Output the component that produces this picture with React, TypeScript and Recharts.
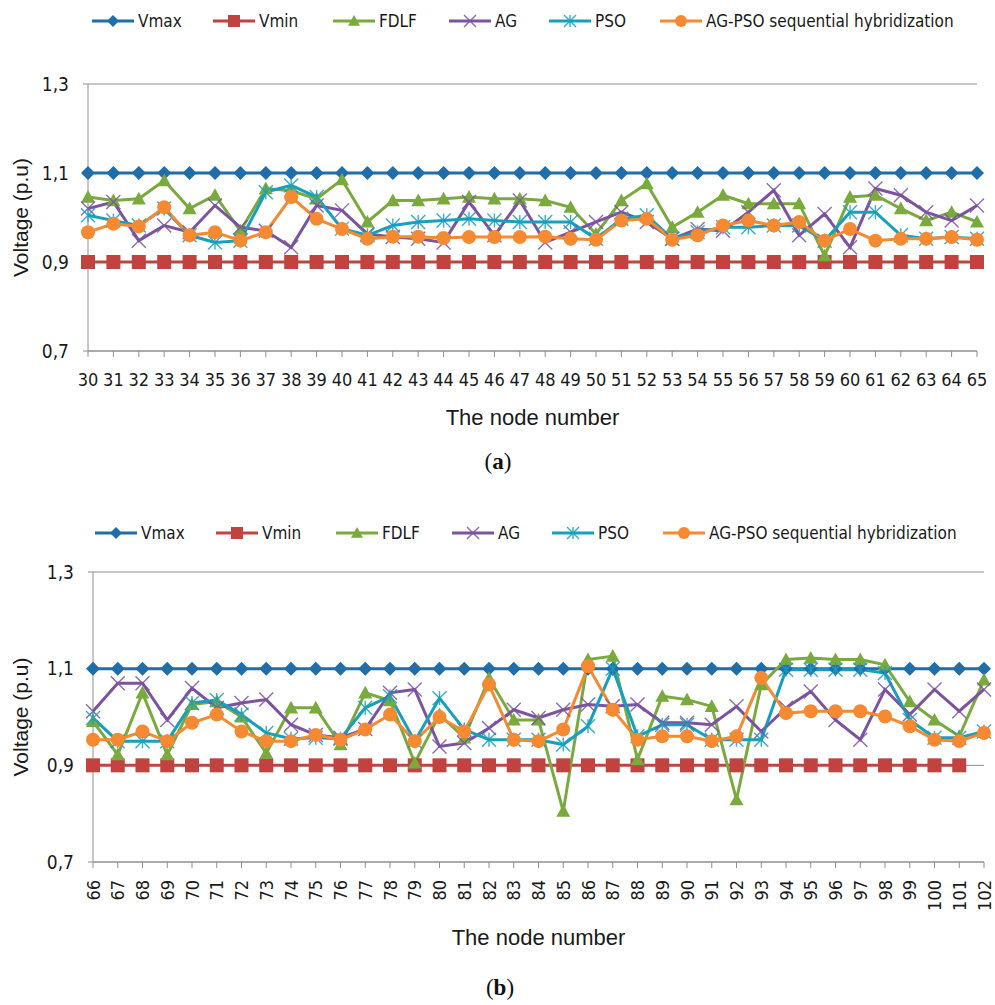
import React from "react";
import { CartesianGrid, Line, LineChart, XAxis, YAxis } from "recharts";

// ---- panel (a): nodes 30..65 ----
const nodesA = [30, 31, 32, 33, 34, 35, 36, 37, 38, 39, 40, 41, 42, 43, 44, 45, 46, 47, 48, 49, 50, 51, 52, 53, 54, 55, 56, 57, 58, 59, 60, 61, 62, 63, 64, 65];
const vmaxA = [1.1, 1.1, 1.1, 1.1, 1.1, 1.1, 1.1, 1.1, 1.1, 1.1, 1.1, 1.1, 1.1, 1.1, 1.1, 1.1, 1.1, 1.1, 1.1, 1.1, 1.1, 1.1, 1.1, 1.1, 1.1, 1.1, 1.1, 1.1, 1.1, 1.1, 1.1, 1.1, 1.1, 1.1, 1.1, 1.1];
const vminA = [0.9, 0.9, 0.9, 0.9, 0.9, 0.9, 0.9, 0.9, 0.9, 0.9, 0.9, 0.9, 0.9, 0.9, 0.9, 0.9, 0.9, 0.9, 0.9, 0.9, 0.9, 0.9, 0.9, 0.9, 0.9, 0.9, 0.9, 0.9, 0.9, 0.9, 0.9, 0.9, 0.9, 0.9, 0.9, 0.9];
const fdlfA = [1.046, 1.038, 1.042, 1.083, 1.02, 1.05, 0.97, 1.065, 1.06, 1.042, 1.085, 0.99, 1.038, 1.038, 1.042, 1.046, 1.042, 1.042, 1.038, 1.023, 0.963, 1.038, 1.076, 0.978, 1.012, 1.05, 1.031, 1.031, 1.031, 0.914, 1.046, 1.05, 1.02, 0.993, 1.012, 0.99];
const agA = [1.02, 1.035, 0.948, 0.982, 0.967, 1.027, 0.978, 0.97, 0.933, 1.027, 1.016, 0.963, 0.956, 0.952, 0.944, 1.035, 0.96, 1.038, 0.944, 0.967, 0.99, 1.012, 0.99, 0.952, 0.974, 0.97, 1.012, 1.061, 0.96, 1.008, 0.933, 1.065, 1.05, 1.012, 0.993, 1.027];
const psoA = [1.005, 0.993, 0.982, 1.02, 0.96, 0.944, 0.948, 1.057, 1.072, 1.046, 0.975, 0.96, 0.982, 0.99, 0.993, 0.997, 0.993, 0.99, 0.99, 0.99, 0.952, 0.997, 1.005, 0.952, 0.967, 0.978, 0.978, 0.982, 0.982, 0.948, 1.012, 1.012, 0.96, 0.952, 0.956, 0.952];
const hybridA = [0.967, 0.986, 0.98, 1.023, 0.96, 0.967, 0.948, 0.967, 1.046, 0.997, 0.974, 0.952, 0.957, 0.957, 0.954, 0.956, 0.956, 0.956, 0.957, 0.952, 0.95, 0.993, 0.997, 0.95, 0.96, 0.982, 0.993, 0.982, 0.99, 0.948, 0.974, 0.948, 0.952, 0.952, 0.956, 0.95];

// ---- panel (b): nodes 66..102 ----
const nodesB = [66, 67, 68, 69, 70, 71, 72, 73, 74, 75, 76, 77, 78, 79, 80, 81, 82, 83, 84, 85, 86, 87, 88, 89, 90, 91, 92, 93, 94, 95, 96, 97, 98, 99, 100, 101, 102];
const vmaxB = [1.1, 1.1, 1.1, 1.1, 1.1, 1.1, 1.1, 1.1, 1.1, 1.1, 1.1, 1.1, 1.1, 1.1, 1.1, 1.1, 1.1, 1.1, 1.1, 1.1, 1.1, 1.1, 1.1, 1.1, 1.1, 1.1, 1.1, 1.1, 1.1, 1.1, 1.1, 1.1, 1.1, 1.1, 1.1, 1.1, 1.1];
const vminB = [0.9, 0.9, 0.9, 0.9, 0.9, 0.9, 0.9, 0.9, 0.9, 0.9, 0.9, 0.9, 0.9, 0.9, 0.9, 0.9, 0.9, 0.9, 0.9, 0.9, 0.9, 0.9, 0.9, 0.9, 0.9, 0.9, 0.9, 0.9, 0.9, 0.9, 0.9, 0.9, 0.9, 0.9, 0.9, 0.9, null];
const fdlfB = [0.991, 0.922, 1.05, 0.922, 1.026, 1.032, 1.0, 0.925, 1.019, 1.019, 0.943, 1.05, 1.034, 0.905, 1.005, 0.957, 1.08, 0.994, 0.994, 0.805, 1.119, 1.126, 0.912, 1.043, 1.036, 1.022, 0.829, 1.067, 1.119, 1.122, 1.119, 1.119, 1.108, 1.032, 0.994, 0.96, 1.077];
const agB = [1.012, 1.07, 1.07, 0.994, 1.06, 1.019, 1.029, 1.036, 0.984, 0.963, 0.957, 0.975, 1.05, 1.057, 0.939, 0.946, 0.977, 1.015, 0.998, 1.015, 1.026, 1.022, 1.026, 0.988, 0.988, 0.984, 1.022, 0.97, 1.019, 1.053, 0.994, 0.953, 1.057, 1.005, 1.057, 1.012, 1.057];
const psoB = [0.998, 0.95, 0.95, 0.95, 1.029, 1.035, 1.005, 0.967, 0.955, 0.957, 0.955, 1.019, 1.043, 0.95, 1.039, 0.974, 0.953, 0.953, 0.953, 0.943, 0.981, 1.1, 0.96, 0.984, 0.984, 0.953, 0.953, 0.953, 1.098, 1.098, 1.098, 1.098, 1.091, 0.994, 0.957, 0.957, 0.97];
const hybridB = [0.953, 0.953, 0.97, 0.95, 0.988, 1.005, 0.97, 0.95, 0.95, 0.963, 0.953, 0.974, 1.005, 0.95, 1.0, 0.97, 1.067, 0.953, 0.95, 0.974, 1.105, 1.015, 0.953, 0.96, 0.96, 0.95, 0.96, 1.081, 1.008, 1.012, 1.012, 1.012, 1.001, 0.981, 0.953, 0.95, 0.967];

const yTicks = [0.7, 0.9, 1.1, 1.3];

const NARROW = "'DejaVu Sans Condensed', 'Liberation Sans Narrow', sans-serif";
const REGULAR = "'Liberation Sans', Arial, sans-serif";
const AXIS_GRAY = "#8f8f8f";
const TEXT = "#1a1a1a";

type Shape = "diamond" | "square" | "triangle" | "cross" | "star" | "circle";

const SERIES: { key: string; name: string; color: string; shape: Shape }[] = [
  { key: "vmax", name: "Vmax", color: "#1f6eaa", shape: "diamond" },
  { key: "vmin", name: "Vmin", color: "#c0433f", shape: "square" },
  { key: "fdlf", name: "FDLF", color: "#7aaa3e", shape: "triangle" },
  { key: "ag", name: "AG", color: "#7b539f", shape: "cross" },
  { key: "pso", name: "PSO", color: "#17a0bd", shape: "star" },
  { key: "hybrid", name: "AG-PSO sequential hybridization", color: "#f58a32", shape: "circle" },
];

// left edge of each legend entry, relative to the legend row
const legendOffsets = [0, 121, 241, 357, 457, 568];

function Marker({ cx, cy, shape, color, s = 7 }: { cx: number; cy: number; shape: Shape; color: string; s?: number }) {
  switch (shape) {
    case "diamond":
      return <polygon points={`${cx},${cy - s} ${cx + s},${cy} ${cx},${cy + s} ${cx - s},${cy}`} fill={color} />;
    case "square":
      return <rect x={cx - s} y={cy - s} width={2 * s} height={2 * s} fill={color} />;
    case "triangle":
      return <polygon points={`${cx},${cy - s} ${cx + s},${cy + s * 0.8} ${cx - s},${cy + s * 0.8}`} fill={color} />;
    case "cross":
      return (
        <g stroke={color} strokeWidth={1.4} opacity={0.85}>
          <line x1={cx - s} y1={cy - s} x2={cx + s} y2={cy + s} />
          <line x1={cx - s} y1={cy + s} x2={cx + s} y2={cy - s} />
        </g>
      );
    case "star":
      return (
        <g stroke={color} strokeWidth={1.4} opacity={0.85}>
          <line x1={cx - s} y1={cy - s} x2={cx + s} y2={cy + s} />
          <line x1={cx - s} y1={cy + s} x2={cx + s} y2={cy - s} />
          <line x1={cx} y1={cy - s} x2={cx} y2={cy + s} />
        </g>
      );
    default:
      return <circle cx={cx} cy={cy} r={s} fill={color} />;
  }
}

const dotFor = (shape: Shape, color: string) => (props: any) => {
  const k = `${shape}-${props.index}`;
  if (props.cx == null || props.cy == null || props.value == null) return <g key={k} />;
  return (
    <g key={k}>
      <Marker cx={props.cx} cy={props.cy} shape={shape} color={color} />
    </g>
  );
};

function buildRows(nodes: number[], vmax: (number | null)[], vmin: (number | null)[], fdlf: number[], ag: number[], pso: number[], hybrid: number[]) {
  return nodes.map((node, i) => ({ node, vmax: vmax[i], vmin: vmin[i], fdlf: fdlf[i], ag: ag[i], pso: pso[i], hybrid: hybrid[i] }));
}

const dataA = buildRows(nodesA, vmaxA, vminA, fdlfA, agA, psoA, hybridA);
const dataB = buildRows(nodesB, vmaxB, vminB, fdlfB, agB, psoB, hybridB);

const fmt = (v: number) => v.toFixed(1).replace(".", ",");

function LegendRow({ top, left }: { top: number; left: number }) {
  return (
    <div style={{ position: "absolute", top, left, height: 24, width: 880, fontFamily: NARROW, fontSize: 17, color: TEXT, whiteSpace: "nowrap" }}>
      {SERIES.map((s, i) => (
        <div key={s.key} style={{ position: "absolute", left: legendOffsets[i], top: 0, height: 24, display: "flex", alignItems: "center" }}>
          <svg width={42} height={16}>
            <line x1={0} x2={42} y1={8} y2={8} stroke={s.color} strokeWidth={3} />
            <Marker cx={21} cy={8} shape={s.shape} color={s.color} s={6} />
          </svg>
          <span style={{ marginLeft: 4 }}>{s.name}</span>
        </div>
      ))}
    </div>
  );
}

const RotatedTick = (props: any) => {
  const { x, y, payload } = props;
  return (
    <text x={x} y={y} transform={`rotate(-90, ${x}, ${y})`} textAnchor="end" dominantBaseline="central" fontFamily={NARROW} fontSize={18} fill={TEXT}>
      {payload.value}
    </text>
  );
};

const YTitle = (props: any) => {
  const vb = props.viewBox;
  const cy = vb.y + vb.height / 2;
  return (
    <text x={20} y={cy} transform={`rotate(-90, 20, ${cy})`} textAnchor="middle" dominantBaseline="central" fontFamily={REGULAR} fontSize={21} fill={TEXT}>
      Voltage (p.u)
    </text>
  );
};

const XTitle = (props: any) => {
  const vb = props.viewBox;
  return (
    <text x={vb.x + vb.width / 2} y={vb.y + vb.height} textAnchor="middle" fontFamily={REGULAR} fontSize={22} fill={TEXT}>
      The node number
    </text>
  );
};

function Panel({ data, width, height, margin, yWidth, xHeight, rotated }: { data: any[]; width: number; height: number; margin: any; yWidth: number; xHeight: number; rotated: boolean }) {
  return (
    <LineChart width={width} height={height} data={data} margin={margin}>
      <CartesianGrid horizontal vertical={false} stroke={AXIS_GRAY} />
      <XAxis
        dataKey="node"
        type="category"
        interval={0}
        height={xHeight}
        axisLine={{ stroke: AXIS_GRAY }}
        tickLine={{ stroke: AXIS_GRAY }}
        tickSize={6}
        tickMargin={rotated ? 12 : 16}
        tick={rotated ? <RotatedTick /> : { fontFamily: NARROW, fontSize: 18, fill: TEXT }}
        label={<XTitle />}
      />
      <YAxis
        domain={[0.7, 1.3]}
        ticks={yTicks}
        width={yWidth}
        tickFormatter={fmt}
        axisLine={{ stroke: AXIS_GRAY }}
        tickLine={{ stroke: AXIS_GRAY }}
        tickSize={5}
        tickMargin={14}
        tick={{ fontFamily: NARROW, fontSize: 19, fill: TEXT }}
        label={<YTitle />}
      />
      {SERIES.map((s) => (
        <Line
          key={s.key}
          type="linear"
          dataKey={s.key}
          name={s.name}
          stroke={s.color}
          strokeWidth={3}
          dot={dotFor(s.shape, s.color)}
          activeDot={false}
          connectNulls={false}
          isAnimationActive={false}
        />
      ))}
    </LineChart>
  );
}

const caption: React.CSSProperties = { position: "absolute", fontFamily: "'Liberation Serif', 'DejaVu Serif', serif", fontSize: 23, color: "#111", transform: "translate(-50%, -50%)" };

export default function App() {
  return (
    <div style={{ position: "absolute", left: 0, top: 0, width: 995, height: 1005, background: "#fff", overflow: "hidden" }}>
      <LegendRow top={9} left={92} />
      <div style={{ position: "absolute", left: 0, top: 0 }}>
        <Panel data={dataA} width={995} height={440} margin={{ top: 84, right: 18, left: 0, bottom: 15 }} yWidth={88} xHeight={74} rotated={false} />
      </div>
      <div style={{ ...caption, left: 498, top: 462 }}>
        (<b>a</b>)
      </div>
      <LegendRow top={521} left={95} />
      <div style={{ position: "absolute", left: 0, top: 480 }}>
        <Panel data={dataB} width={995} height={525} margin={{ top: 92, right: 11, left: 0, bottom: 60 }} yWidth={93} xHeight={83} rotated />
      </div>
      <div style={{ ...caption, left: 500, top: 988 }}>
        (<b>b</b>)
      </div>
    </div>
  );
}
